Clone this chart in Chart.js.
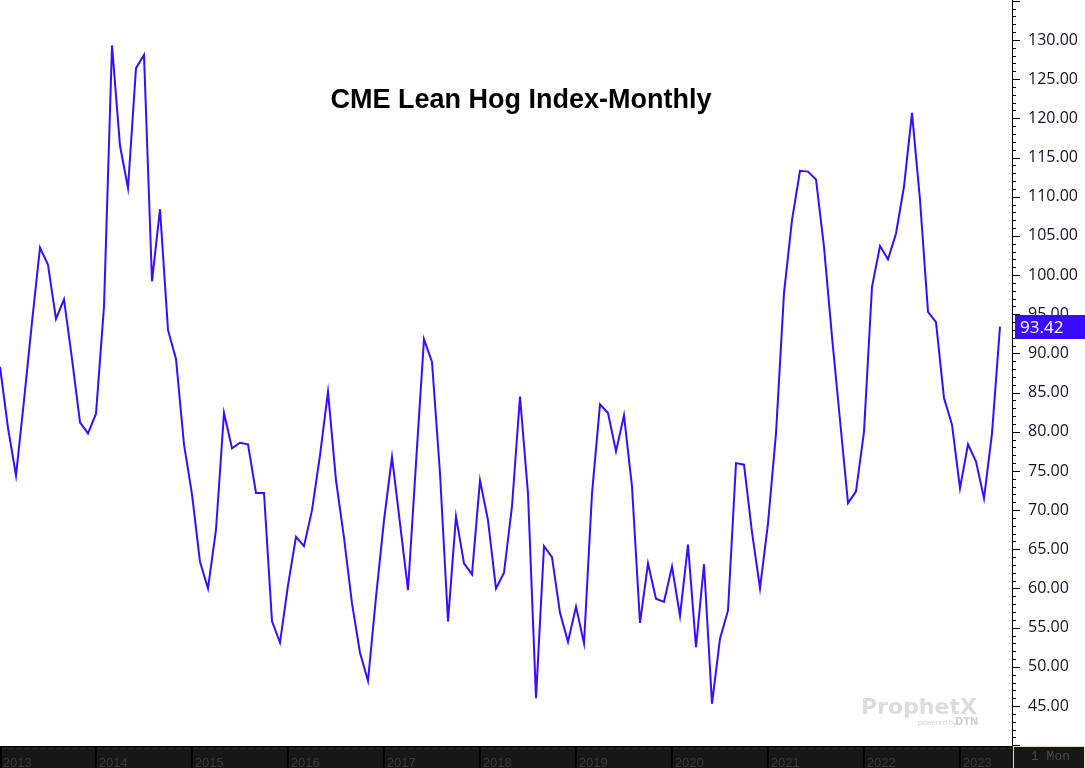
<!DOCTYPE html>
<html>
<head>
<meta charset="utf-8">
<script src="https://cdn.jsdelivr.net/npm/chart.js@4.4.0/dist/chart.umd.min.js"></script>
<style>
  html, body { margin: 0; padding: 0; background: #fff; }
  #wrap { position: relative; width: 1085px; height: 768px; }
</style>
</head>
<body>
<div id="wrap"><canvas id="hogs" width="1085" height="768"></canvas></div>
<script>
// monthly values, Jan 2013 .. Jun 2023
const years = ['2013', '2014', '2015', '2016', '2017', '2018', '2019', '2020', '2021', '2022', '2023'];
const hogIndex = [
  88.3, 80.5, 74.4, 84.0, 94.0, 103.5, 101.3, 94.4, 96.9, 89.3, 81.2, 79.8,
  82.3, 96.0, 129.3, 116.5, 111.1, 126.4, 128.1, 99.2, 108.4, 93.0, 89.3, 78.4,
  72.0, 63.4, 60.0, 67.5, 82.4, 77.9, 78.6, 78.4, 72.2, 72.2, 55.8, 53.1,
  60.4, 66.6, 65.4, 70.0, 77.0, 85.1, 73.8, 66.5, 58.1, 51.8, 48.2, 58.9,
  68.7, 76.8, 68.3, 59.8, 76.0, 91.8, 88.9, 74.7, 55.8, 69.2, 63.2, 61.8,
  73.8, 68.7, 60.0, 62.0, 70.5, 84.5, 72.1, 46.0, 65.4, 64.0, 56.9, 53.2,
  57.7, 53.0, 72.1, 83.5, 82.4, 77.5, 82.1, 73.0, 55.6, 63.2, 58.7, 58.3,
  62.8, 56.5, 65.6, 52.5, 63.1, 45.3, 53.6, 57.2, 76.0, 75.8, 67.2, 60.0,
  68.3, 79.8, 97.7, 107.0, 113.3, 113.2, 112.2, 103.6, 92.1, 81.5, 70.9, 72.4,
  80.0, 98.5, 103.7, 102.0, 105.3, 111.3, 120.7, 109.6, 95.3, 94.0, 84.3, 80.9,
  72.8, 78.4, 76.2, 71.5, 79.8, 93.42
];
const yLabelValues = [45, 50, 55, 60, 65, 70, 75, 80, 85, 90, 95, 100, 105, 110, 115, 120, 125, 130];
const periodLabel = '1 Mon';

const LINE = '#3a0cff';
const LABEL_NUDGE = 0.35; // year text sits a few px right of the Jan boundary

const noPad = s => { s.paddingTop = 0; s.paddingBottom = 0; s.paddingLeft = 0; s.paddingRight = 0; };

const chrome = {
  id: 'chrome',
  beforeDraw(chart) {
    const { ctx, chartArea } = chart;
    const xs = chart.scales.x;
    ctx.save();
    // dark date bar
    ctx.fillStyle = '#171717';
    ctx.fillRect(0, xs.top, chartArea.right, chart.height - xs.top);
    ctx.strokeStyle = '#000';
    ctx.lineWidth = 1;
    ctx.beginPath();
    ctx.moveTo(0, xs.top + 0.5);
    ctx.lineTo(chartArea.right, xs.top + 0.5);
    ctx.stroke();
    ctx.strokeStyle = '#2c2c2c';
    ctx.setLineDash([6, 2]);
    ctx.beginPath();
    ctx.moveTo(0, xs.top + 2.5);
    ctx.lineTo(chartArea.right, xs.top + 2.5);
    ctx.stroke();
    ctx.setLineDash([]);
    // year separators
    ctx.strokeStyle = '#000';
    ctx.lineWidth = 2;
    xs.ticks.forEach(t => {
      const px = Math.max(1, Math.round(xs.getPixelForValue(t.value - LABEL_NUDGE)));
      ctx.beginPath();
      ctx.moveTo(px, xs.top);
      ctx.lineTo(px, chart.height);
      ctx.stroke();
    });
    ctx.restore();
  },
  afterDraw(chart) {
    const { ctx } = chart;
    const ys = chart.scales.y;
    const xs = chart.scales.x;
    ctx.save();
    // tick marks on the price axis
    ctx.strokeStyle = '#000';
    ctx.lineWidth = 1;
    ys.ticks.forEach(t => {
      const py = Math.round(ys.getPixelForValue(t.value)) + 0.5;
      const len = t.value % 5 === 0 ? 8 : 4;
      ctx.beginPath();
      ctx.moveTo(ys.left, py);
      ctx.lineTo(ys.left + len, py);
      ctx.stroke();
    });

    // title
    ctx.fillStyle = '#000';
    ctx.font = 'bold 27px "Liberation Sans", Arial, sans-serif';
    ctx.textAlign = 'center';
    ctx.textBaseline = 'alphabetic';
    ctx.fillText('CME Lean Hog Index-Monthly', 521, 108);

    // watermark
    ctx.textAlign = 'left';
    ctx.fillStyle = '#dcdcdc';
    ctx.font = 'bold 22px "DejaVu Sans", sans-serif';
    ctx.fillText('ProphetX', 861, 714);
    ctx.fillStyle = '#d0d0d0';
    ctx.font = '7px "Open Sans", sans-serif';
    ctx.fillText('powered by', 918, 725);
    ctx.font = 'bold 10px "DejaVu Sans", sans-serif';
    ctx.fillText('DTN', 955, 725);

    // last value marker
    const last = hogIndex[hogIndex.length - 1];
    const ly = Math.round(ys.getPixelForValue(last));
    ctx.fillStyle = LINE;
    ctx.fillRect(ys.left + 3, ly - 12, chart.width - ys.left - 3, 24);
    ctx.fillStyle = '#fff';
    ctx.font = '17px "Open Sans", sans-serif';
    ctx.textBaseline = 'middle';
    ctx.fillText(last.toFixed(2), ys.left + 8, ly + 1);

    // period box
    ctx.fillStyle = '#171717';
    ctx.fillRect(ys.left, xs.top, chart.width - ys.left, chart.height - xs.top);
    ctx.strokeStyle = '#e8dcb4';
    ctx.lineWidth = 1;
    ctx.strokeRect(ys.left + 1.5, xs.top + 0.5, chart.width - ys.left - 2, chart.height - xs.top);
    ctx.fillStyle = '#4a4a4a';
    ctx.font = '13px "Liberation Mono", monospace';
    ctx.textAlign = 'center';
    ctx.fillText(periodLabel, (ys.left + chart.width) / 2 + 2, xs.top + 11);
    ctx.restore();
  }
};

new Chart(document.getElementById('hogs'), {
  type: 'line',
  data: {
    datasets: [{
      data: hogIndex.map((v, i) => ({ x: i, y: v })),
      borderColor: LINE,
      borderWidth: 2,
      pointRadius: 0,
      tension: 0,
      fill: false
    }]
  },
  options: {
    responsive: false,
    animation: false,
    devicePixelRatio: 1,
    layout: { padding: 0 },
    plugins: { legend: { display: false }, tooltip: { enabled: false }, title: { display: false } },
    scales: {
      x: {
        type: 'linear',
        position: 'bottom',
        min: 0,
        max: 126.5,
        afterBuildTicks: s => { s.ticks = years.map((y, i) => ({ value: i * 12 + LABEL_NUDGE })); },
        afterFit: s => { s.height = 22; noPad(s); },
        grid: { display: false },
        border: { display: false },
        ticks: {
          autoSkip: false,
          maxRotation: 0,
          minRotation: 0,
          align: 'start',
          padding: 2,
          color: '#3a3a3a',
          font: { family: '"Liberation Sans", Arial, sans-serif', size: 13 },
          callback: v => years[Math.round(v / 12)]
        }
      },
      y: {
        position: 'right',
        min: 39.9,
        max: 135.1,
        afterBuildTicks: s => {
          const t = [];
          for (let v = 40; v <= 135; v++) t.push({ value: v });
          s.ticks = t;
        },
        afterFit: s => { s.width = 73; noPad(s); },
        grid: { display: true, drawOnChartArea: false, drawTicks: false },
        border: { display: true, color: '#000', width: 1 },
        ticks: {
          autoSkip: false,
          padding: 16,
          color: '#10102a',
          font: { family: '"Open Sans", sans-serif', size: 16 },
          callback: v => yLabelValues.includes(v) ? v.toFixed(2) : ''
        }
      }
    }
  },
  plugins: [chrome]
});
</script>
</body>
</html>
